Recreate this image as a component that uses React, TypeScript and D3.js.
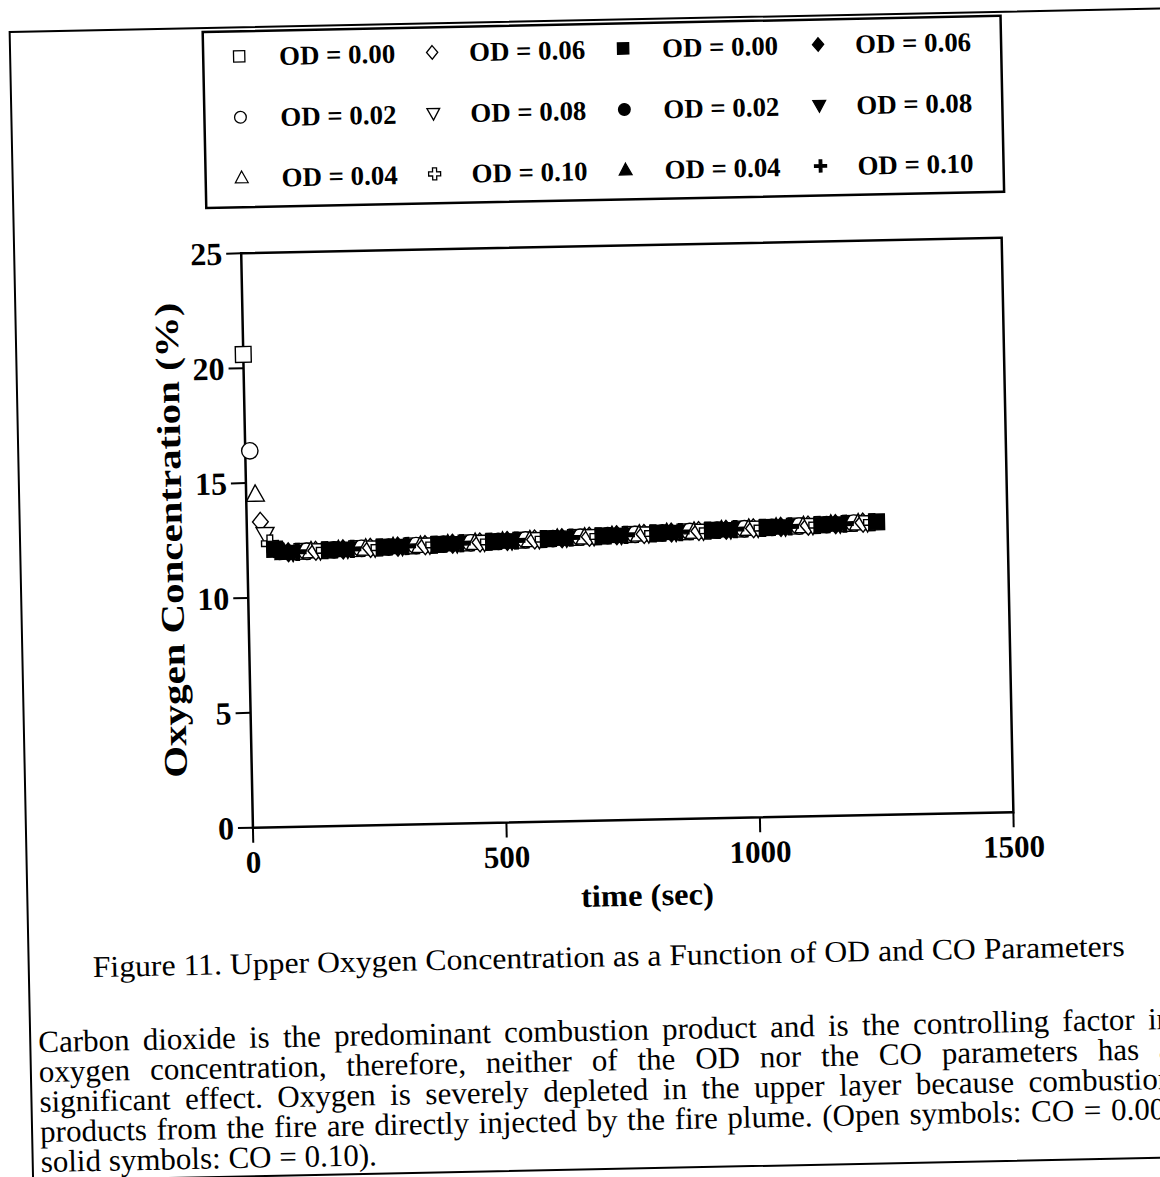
import React, { useEffect, useRef } from 'react';
import * as d3 from 'd3';

// ---------- data ----------
const xTicks = [0, 500, 1000, 1500];
const yTicks = [0, 5, 10, 15, 20, 25];

const seriesLabels = [
  'OD = 0.00', 'OD = 0.02', 'OD = 0.04', 'OD = 0.06', 'OD = 0.08', 'OD = 0.10',
  'OD = 0.00', 'OD = 0.02', 'OD = 0.04', 'OD = 0.06', 'OD = 0.08', 'OD = 0.10',
];
const seriesShapes = [
  'square', 'circle', 'triangle', 'diamond', 'triangleDown', 'cross',
  'square', 'circle', 'triangle', 'diamond', 'triangleDown', 'cross',
];
const seriesFilled = [false, false, false, false, false, false, true, true, true, true, true, true];

// open symbols: CO = 0.00
const tOpen000 = [0, 108, 216, 324, 432, 540, 648, 756, 864, 972, 1080, 1188];
const vOpen000 = [20.6, 11.98, 12.05, 12.12, 12.2, 12.27, 12.34, 12.42, 12.49, 12.56, 12.64, 12.71];
const tOpen002 = [9, 117, 225, 333, 441, 549, 657, 765, 873, 981, 1089, 1197];
const vOpen002 = [16.4, 11.98, 12.06, 12.13, 12.2, 12.28, 12.35, 12.42, 12.5, 12.57, 12.64, 12.72];
const tOpen004 = [18, 126, 234, 342, 450, 558, 666, 774, 882, 990, 1098, 1206];
const vOpen004 = [14.5, 11.99, 12.06, 12.13, 12.21, 12.28, 12.35, 12.43, 12.5, 12.58, 12.65, 12.72];
const tOpen006 = [27, 135, 243, 351, 459, 567, 675, 783, 891, 999, 1107, 1215];
const vOpen006 = [13.3, 11.99, 12.07, 12.14, 12.21, 12.29, 12.36, 12.43, 12.51, 12.58, 12.65, 12.73];
const tOpen008 = [36, 144, 252, 360, 468, 576, 684, 792, 900, 1008, 1116, 1224];
const vOpen008 = [12.75, 12.0, 12.07, 12.15, 12.22, 12.29, 12.37, 12.44, 12.51, 12.59, 12.66, 12.73];
const tOpen010 = [45, 153, 261, 369, 477, 585, 693, 801, 909, 1017, 1125, 1233];
const vOpen010 = [12.35, 12.01, 12.08, 12.15, 12.23, 12.3, 12.37, 12.45, 12.52, 12.59, 12.67, 12.74];
// solid symbols: CO = 0.10
const tSolid000 = [54, 162, 270, 378, 486, 594, 702, 810, 918, 1026, 1134, 1242];
const vSolid000 = [12.1, 12.01, 12.09, 12.16, 12.23, 12.31, 12.38, 12.45, 12.53, 12.6, 12.67, 12.75];
const tSolid002 = [63, 171, 279, 387, 495, 603, 711, 819, 927, 1035, 1143];
const vSolid002 = [12.0, 12.02, 12.09, 12.17, 12.24, 12.31, 12.39, 12.46, 12.53, 12.61, 12.68];
const tSolid004 = [72, 180, 288, 396, 504, 612, 720, 828, 936, 1044, 1152];
const vSolid004 = [11.95, 12.02, 12.1, 12.17, 12.24, 12.32, 12.39, 12.47, 12.54, 12.61, 12.69];
const tSolid006 = [81, 189, 297, 405, 513, 621, 729, 837, 945, 1053, 1161];
const vSolid006 = [11.95, 12.03, 12.1, 12.18, 12.25, 12.32, 12.4, 12.47, 12.54, 12.62, 12.69];
const tSolid008 = [90, 198, 306, 414, 522, 630, 738, 846, 954, 1062, 1170];
const vSolid008 = [11.95, 12.04, 12.11, 12.18, 12.26, 12.33, 12.4, 12.48, 12.55, 12.62, 12.7];
const tSolid010 = [99, 207, 315, 423, 531, 639, 747, 855, 963, 1071, 1179];
const vSolid010 = [11.96, 12.04, 12.12, 12.19, 12.26, 12.34, 12.41, 12.48, 12.56, 12.63, 12.7];

const seriesTimes = [tOpen000, tOpen002, tOpen004, tOpen006, tOpen008, tOpen010,
  tSolid000, tSolid002, tSolid004, tSolid006, tSolid008, tSolid010];
const seriesValues = [vOpen000, vOpen002, vOpen004, vOpen006, vOpen008, vOpen010,
  vSolid000, vSolid002, vSolid004, vSolid006, vSolid008, vSolid010];

const captionText = 'Figure 11. Upper Oxygen Concentration as a Function of OD and CO Parameters';
const paragraphLines = [
  'Carbon dioxide is the predominant combustion product and is the controlling factor in',
  'oxygen concentration, therefore, neither of the OD nor the CO parameters has a',
  'significant effect. Oxygen is severely depleted in the upper layer because combustion',
  'products from the fire are directly injected by the fire plume. (Open symbols: CO = 0.00;',
  'solid symbols: CO = 0.10).',
];

// ---------- layout ----------
const W = 1160;
const H = 1177;
const ROT = -1.17;
const RCX = 627;
const RCY = 533;
const plot = { left: 247, right: 1007.6, top: 245.5, bottom: 820 };
const FONT = "'Liberation Serif', 'Times New Roman', serif";

function markerPath(shape: string, filled: boolean, k: number): string {
  const p = d3.path();
  if (shape === 'square') {
    p.rect(-7.5 * k, -7.5 * k, 15 * k, 15 * k);
  } else if (shape === 'circle') {
    p.arc(0, 0, 7.8 * k, 0, Math.PI * 2);
  } else if (shape === 'triangle') {
    p.moveTo(0, -9 * k); p.lineTo(8.5 * k, 6.5 * k); p.lineTo(-8.5 * k, 6.5 * k); p.closePath();
  } else if (shape === 'triangleDown') {
    p.moveTo(0, 9 * k); p.lineTo(8.5 * k, -6.5 * k); p.lineTo(-8.5 * k, -6.5 * k); p.closePath();
  } else if (shape === 'diamond') {
    p.moveTo(0, -9 * k); p.lineTo(7.5 * k, 0); p.lineTo(0, 9 * k); p.lineTo(-7.5 * k, 0); p.closePath();
  } else {
    const a = (filled ? 1.7 : 2.7) * k;
    const L = 8 * k;
    p.moveTo(-a, -L); p.lineTo(a, -L); p.lineTo(a, -a); p.lineTo(L, -a); p.lineTo(L, a);
    p.lineTo(a, a); p.lineTo(a, L); p.lineTo(-a, L); p.lineTo(-a, a); p.lineTo(-L, a);
    p.lineTo(-L, -a); p.lineTo(-a, -a); p.closePath();
  }
  return p.toString();
}

export default function App() {
  const svgRef = useRef<SVGSVGElement>(null);

  const x = d3.scaleLinear().domain([0, 1500]).range([plot.left, plot.right]);
  const y = d3.scaleLinear().domain([0, 25]).range([plot.bottom, plot.top]);

  useEffect(() => {
    if (!svgRef.current) return;
    d3.select(svgRef.current)
      .selectAll<SVGTextElement, unknown>('text.justify')
      .each(function () {
        const el = this as SVGTextElement;
        el.setAttribute('word-spacing', '0');
        const len = el.getComputedTextLength();
        const n = (el.textContent || '').split(' ').length - 1;
        const target = Number(el.getAttribute('data-w'));
        if (n > 0) el.setAttribute('word-spacing', String((target - len) / n));
      });
  }, []);

  const legendColX = [249, 442, 633, 828];
  const legendTextX = [289, 479, 672, 865];
  const legendRowY = [48.5, 109.5, 170];

  const order = d3.range(seriesTimes.length);

  return (
    <svg
      ref={svgRef}
      width={W}
      height={H}
      style={{ position: 'absolute', left: 0, top: 0, background: '#fff' }}
      fontFamily={FONT}
    >
      <rect x={0} y={0} width={W} height={H} fill="#fff" />
      <g transform={`rotate(${ROT}, ${RCX}, ${RCY})`}>
        {/* outer frame */}
        <rect x={20} y={19.5} width={1220} height={1149} fill="none" stroke="#000" strokeWidth={2} />

        {/* legend */}
        <rect x={213} y={23.5} width={798} height={176} fill="#fff" stroke="#000" strokeWidth={2.5} />
        {order.map((i) => {
          const col = Math.floor(i / 3);
          const row = i % 3;
          return (
            <g key={'lg' + i}>
              <path
                d={markerPath(seriesShapes[i], seriesFilled[i], 0.75)}
                transform={`translate(${legendColX[col]},${legendRowY[row]})`}
                fill={seriesFilled[i] ? '#000' : '#fff'}
                stroke="#000"
                strokeWidth={1.3}
              />
              <text
                x={legendTextX[col]}
                y={legendRowY[row] + 9.5}
                fontSize={27}
                fontWeight="bold"
                textLength={116}
                lengthAdjust="spacingAndGlyphs"
              >
                {seriesLabels[i]}
              </text>
            </g>
          );
        })}

        {/* plot frame */}
        <rect
          x={plot.left}
          y={plot.top}
          width={plot.right - plot.left}
          height={plot.bottom - plot.top}
          fill="none"
          stroke="#000"
          strokeWidth={2.5}
        />
        {/* y ticks */}
        {yTicks.map((t) => (
          <g key={'yt' + t}>
            <line x1={plot.left - 15} x2={plot.left} y1={y(t)} y2={y(t)} stroke="#000" strokeWidth={2} />
            <text x={plot.left - 19} y={y(t) + 11} textAnchor="end" fontSize={32} fontWeight="bold">
              {String(t)}
            </text>
          </g>
        ))}
        {/* x ticks */}
        {xTicks.map((t) => (
          <g key={'xt' + t}>
            <line x1={x(t)} x2={x(t)} y1={plot.bottom} y2={plot.bottom + 15} stroke="#000" strokeWidth={2} />
            <text x={x(t)} y={plot.bottom + 45} textAnchor="middle" fontSize={31} fontWeight="bold">
              {String(t)}
            </text>
          </g>
        ))}
        {/* axis titles */}
        <text
          x={640}
          y={906}
          textAnchor="middle"
          fontSize={31}
          fontWeight="bold"
          textLength={133}
          lengthAdjust="spacingAndGlyphs"
        >
          time (sec)
        </text>
        <text
          transform={`translate(182, 531) rotate(-90)`}
          x={0}
          y={0}
          textAnchor="middle"
          fontSize={33}
          fontWeight="bold"
          textLength={475}
          lengthAdjust="spacingAndGlyphs"
        >
          Oxygen Concentration (%)
        </text>

        {/* data */}
        {order.map((i) => (
          <g key={'s' + i}>
            {seriesTimes[i].map((t, j) => (
              <path
                key={j}
                d={markerPath(seriesShapes[i], seriesFilled[i], 1.05)}
                transform={`translate(${x(t)},${y(seriesValues[i][j])})`}
                fill={seriesFilled[i] ? '#000' : '#fff'}
                stroke="#000"
                strokeWidth={1.4}
              />
            ))}
          </g>
        ))}

        {/* caption */}
        <text
          x={600}
          y={966}
          textAnchor="middle"
          fontSize={30}
          textLength={1032}
          lengthAdjust="spacingAndGlyphs"
        >
          {captionText}
        </text>

        {/* paragraph */}
        {paragraphLines.map((ln, i) => (
          <text
            key={'p' + i}
            className={i < paragraphLines.length - 1 ? 'justify' : ''}
            data-w={1134}
            x={28}
            y={1040 + i * 30}
            fontSize={31}
          >
            {ln}
          </text>
        ))}
      </g>
    </svg>
  );
}
